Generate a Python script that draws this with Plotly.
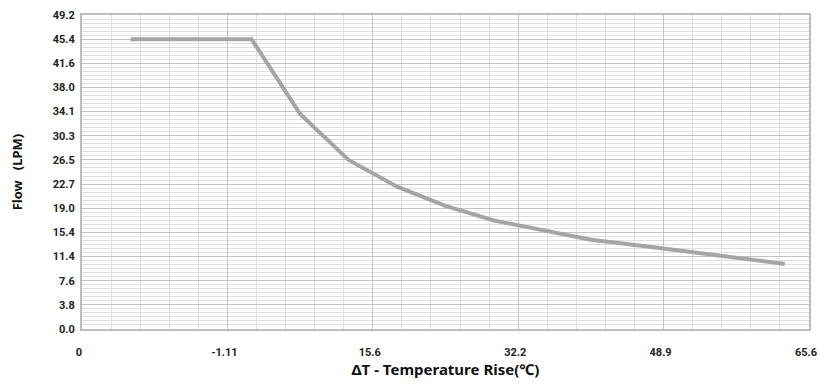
import plotly.graph_objects as go

# flow curve, x read in deg F (axis drawn 0..150), flow in LPM
temp_f = [10, 35, 45, 55, 65, 75, 85, 95, 105, 115, 125, 135, 145]
flow_lpm = [45.4, 45.4, 33.7, 26.5, 22.3, 19.3, 17.0, 15.5, 14.0, 13.1, 12.1, 11.2, 10.2]

x_tickvals = [0, 30, 60, 90, 120, 150]
x_ticktext = ['0', '-1.11', '15.6', '32.2', '48.9', '65.6']

gpm = 3.785
y_tickvals = [i * gpm for i in range(14)]
y_ticktext = ['0.0', '3.8', '7.6', '11.4', '15.4', '19.0', '22.7', '26.5',
              '30.3', '34.1', '38.0', '41.6', '45.4', '49.2']

tick_font = dict(family='Roboto', size=11, color='#222222', weight='bold')

fig = go.Figure()
fig.add_trace(
    go.Scatter(x=temp_f, y=flow_lpm, mode='lines',
               line=dict(color='#a5a5a5', width=4), showlegend=False))

fig.update_layout(
    width=818, height=387,
    margin=dict(l=82, r=9, t=15, b=58),
    plot_bgcolor='white', paper_bgcolor='white',
    xaxis=dict(
        range=[0, 150], tickvals=x_tickvals, ticktext=x_ticktext,
        tickfont=tick_font, ticks='outside', ticklen=12, tickcolor='rgba(0,0,0,0)',
        ticklabeloverflow='allow', ticklabelshift=-3,
        showgrid=True, gridcolor='#c4c4c4', gridwidth=1,
        minor=dict(dtick=6, tick0=0, showgrid=True, gridcolor='#e0e0e0', gridwidth=1),
        showline=True, linecolor='#bdbdbd', linewidth=2, mirror=True,
        zeroline=False, automargin=False,
        title=dict(text='ΔT - Temperature Rise(℃)', standoff=0,
                   font=dict(family='Noto Sans', size=15, color='#111111', weight='bold')),
    ),
    yaxis=dict(
        range=[0, 13 * gpm], tickvals=y_tickvals, ticktext=y_ticktext,
        tickfont=tick_font, ticks='outside', ticklen=3, tickcolor='rgba(0,0,0,0)',
        ticklabeloverflow='allow',
        showgrid=True, gridcolor='#c4c4c4', gridwidth=1,
        minor=dict(dtick=gpm / 6, tick0=0, showgrid=True, gridcolor='#e0e0e0', gridwidth=1),
        showline=True, linecolor='#bdbdbd', linewidth=2, mirror=True,
        zeroline=False, automargin=False,
        title=dict(text='Flow   (LPM)', standoff=27,
                   font=dict(family='Noto Sans', size=13, color='#111111', weight='bold')),
    ),
)

# drop the default 8px body margin so the figure fills the window
fig.write_html('out.html', config={'displayModeBar': False},
               post_script="document.body.style.margin='0';document.body.style.overflow='hidden';")
